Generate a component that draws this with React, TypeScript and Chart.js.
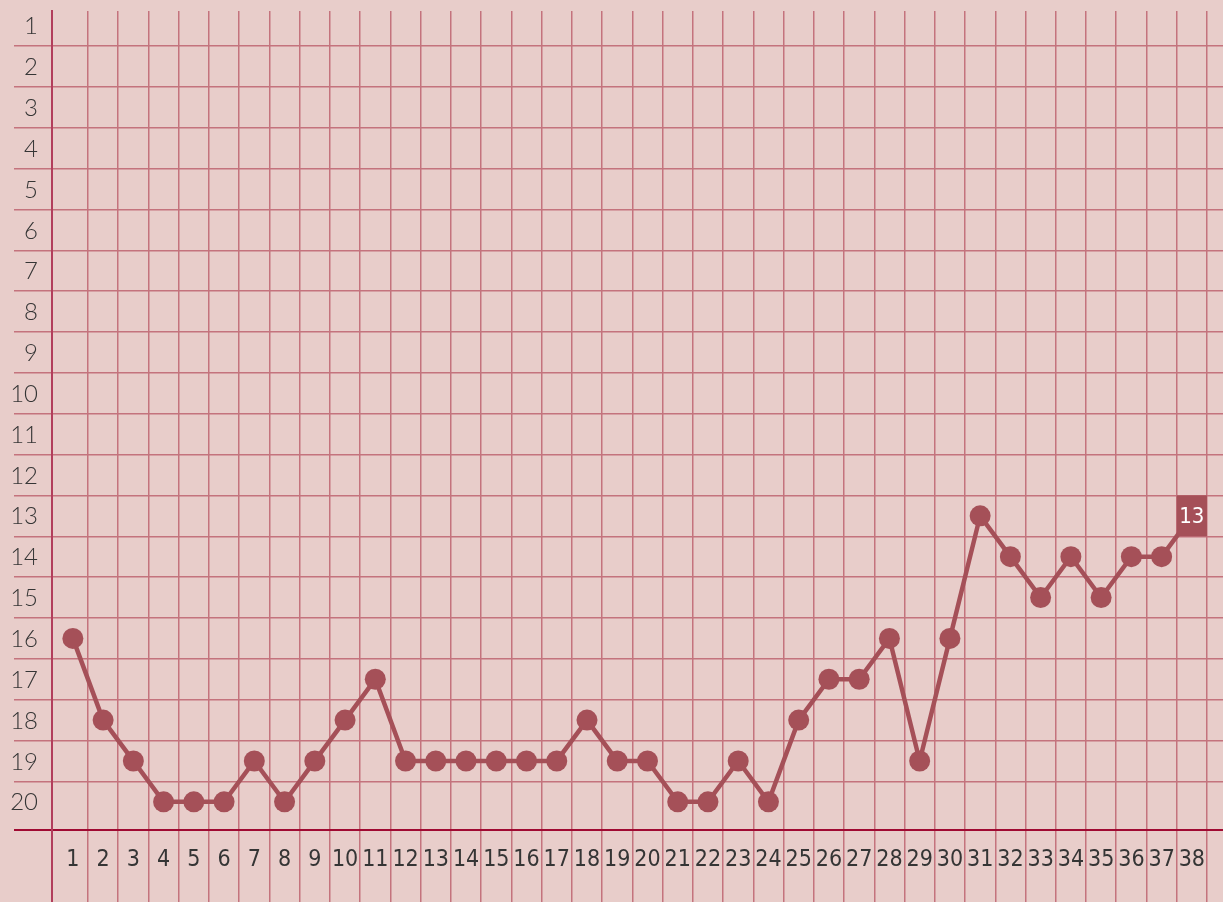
import React, { useEffect, useRef } from "react";
import { Chart, registerables } from "chart.js";

Chart.register(...registerables);

// Days (x categories)
const days = [1, 2, 3, 4, 5, 6, 7, 8, 9, 10, 11, 12, 13, 14, 15, 16, 17, 18, 19, 20,
  21, 22, 23, 24, 25, 26, 27, 28, 29, 30, 31, 32, 33, 34, 35, 36, 37, 38];

// Rank positions (y tick labels, reversed axis)
const rankLabels = [1, 2, 3, 4, 5, 6, 7, 8, 9, 10, 11, 12, 13, 14, 15, 16, 17, 18, 19, 20];

// Series: rank on each day
const ranks = [16, 18, 19, 20, 20, 20, 19, 20, 19, 18, 17, 19, 19, 19, 19, 19, 19, 18, 19, 19,
  20, 20, 19, 20, 18, 17, 17, 16, 19, 16, 13, 14, 15, 14, 15, 14, 14, 13];

const BG = "#e8cdca";
const GRID = "#c4737d";
const Y_AXIS_LINE = "#b23e5c";
const X_AXIS_LINE = "#a00a32";
const LINE = "#a55058";
const TEXT = "#353535";

const X_MIN = 0.31;
const X_MAX = 39.03;
const Y_MIN = 0.643;
const Y_MAX = 20.69;

const lastLabelPlugin = {
  id: "lastLabel",
  afterDatasetsDraw(chart: any) {
    const meta = chart.getDatasetMeta(0);
    const pt = meta.data[meta.data.length - 1];
    if (!pt) return;
    const xs = chart.scales.x;
    const ys = chart.scales.y;
    const w = Math.abs(xs.getPixelForValue(1) - xs.getPixelForValue(0));
    const h = Math.abs(ys.getPixelForValue(1) - ys.getPixelForValue(0));
    const ctx = chart.ctx;
    ctx.save();
    ctx.fillStyle = LINE;
    ctx.fillRect(pt.x - w / 2, pt.y - h / 2, w, h);
    ctx.fillStyle = "#ffffff";
    ctx.font = "22px 'Liberation Sans Narrow', 'DejaVu Sans Condensed', sans-serif";
    ctx.textAlign = "center";
    ctx.textBaseline = "middle";
    ctx.fillText(String(ranks[ranks.length - 1]), pt.x, pt.y + 1);
    ctx.restore();
  },
};

export default function App() {
  const canvasRef = useRef<HTMLCanvasElement | null>(null);

  useEffect(() => {
    document.body.style.margin = "0";
    document.body.style.overflow = "hidden";
    const canvas = canvasRef.current;
    if (!canvas) return;
    const lastIdx = ranks.length - 1;
    const chart = new Chart(canvas, {
      type: "line",
      data: {
        datasets: [
          {
            data: ranks.map((r, i) => ({ x: days[i], y: r })),
            borderColor: LINE,
            backgroundColor: LINE,
            borderWidth: 4.5,
            pointRadius: (ctx: any) => (ctx.dataIndex === lastIdx ? 0 : 10.5),
            pointBackgroundColor: LINE,
            pointBorderColor: LINE,
            pointBorderWidth: 0,
            tension: 0,
            clip: false as any,
          },
        ],
      },
      options: {
        animation: false,
        responsive: false,
        devicePixelRatio: 1,
        layout: { autoPadding: false, padding: { top: 11, left: 0, right: 0, bottom: 0 } },
        plugins: {
          legend: { display: false },
          tooltip: { enabled: false },
        },
        scales: {
          x: {
            type: "linear",
            min: X_MIN,
            max: X_MAX,
            afterBuildTicks: (scale: any) => {
              scale.ticks = [{ value: X_MIN }, ...days.map((d) => ({ value: d + 0.5 }))];
            },
            afterFit: (scale: any) => {
              scale.height = 72;
            },
            border: { display: false },
            grid: {
              color: (ctx: any) => (ctx.tick && ctx.tick.value === X_MIN ? Y_AXIS_LINE : GRID),
              lineWidth: (ctx: any) => (ctx.tick && ctx.tick.value === X_MIN ? 2 : 1.5),
              drawTicks: true,
              tickLength: 72,
            },
            ticks: {
              autoSkip: false,
              maxRotation: 0,
              minRotation: 0,
              padding: -56,
              labelOffset: -15.1,
              color: TEXT,
              font: { family: "'Liberation Sans Narrow', 'DejaVu Sans Condensed', sans-serif", size: 23 },
              callback: (value: any) => {
                if (value === X_MIN) return "";
                const idx = days.indexOf(Math.round(value - 0.5));
                return idx >= 0 ? String(days[idx]) : "";
              },
            },
          },
          y: {
            type: "linear",
            reverse: true,
            min: Y_MIN,
            max: Y_MAX,
            afterBuildTicks: (scale: any) => {
              scale.ticks = [...rankLabels.map((r) => ({ value: r + 0.5 })), { value: Y_MAX }];
            },
            afterFit: (scale: any) => {
              scale.width = 52;
            },
            border: { display: true, color: Y_AXIS_LINE, width: 2 },
            grid: {
              color: (ctx: any) => {
                const v = ctx.tick ? ctx.tick.value : 0;
                if (v === Y_MAX) return X_AXIS_LINE;
                if (v === 20.5) return "rgba(0,0,0,0)";
                return GRID;
              },
              lineWidth: (ctx: any) => (ctx.tick && ctx.tick.value === Y_MAX ? 2 : 1.5),
              drawTicks: true,
              tickLength: 38,
            },
            ticks: {
              autoSkip: false,
              padding: -24,
              labelOffset: -19.5,
              color: TEXT,
              font: { family: "Lato, 'Open Sans', sans-serif", size: 24, weight: "300" as any },
              callback: (value: any) => {
                if (value === Y_MAX) return "";
                const idx = rankLabels.indexOf(Math.round(value - 0.5));
                return idx >= 0 ? String(rankLabels[idx]) : "";
              },
            },
          },
        },
      },
      plugins: [lastLabelPlugin],
    } as any);
    return () => chart.destroy();
  }, []);

  return (
    <div style={{ width: 1223, height: 902, background: BG }}>
      <canvas ref={canvasRef} width={1223} height={902} style={{ display: "block" }} />
    </div>
  );
}
